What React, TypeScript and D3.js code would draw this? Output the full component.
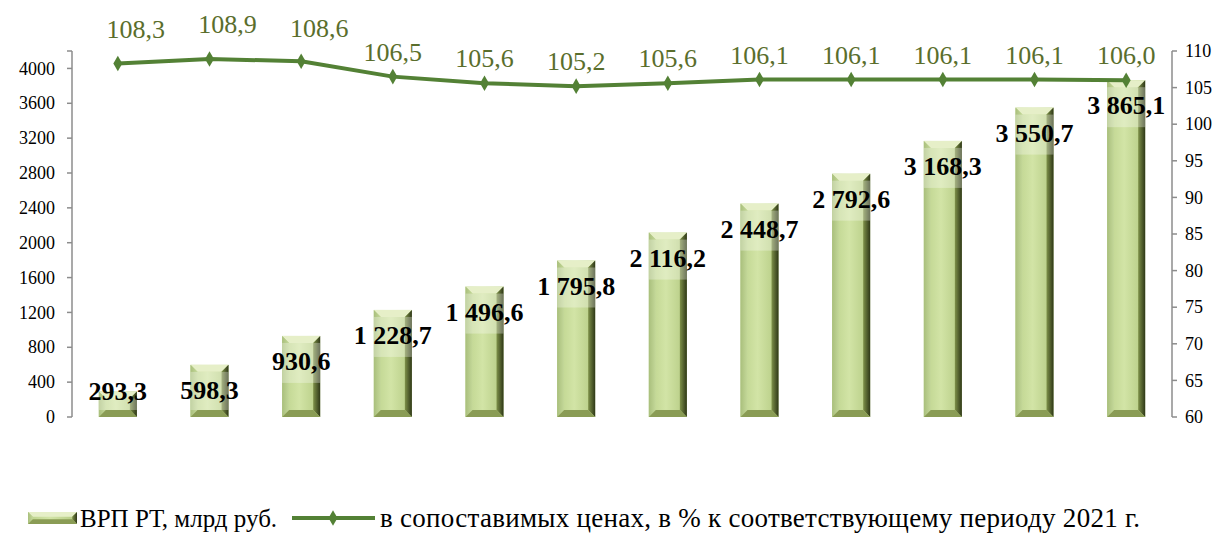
import React from "react";
import * as d3 from "d3";

const categories = ["янв", "янв-фев", "I кв", "янв-апр", "янв-май", "I пол", "янв-июл", "янв-авг", "9 мес", "янв-окт", "янв-ноя", "2022"];
const grpValues = [293.3, 598.3, 930.6, 1228.7, 1496.6, 1795.8, 2116.2, 2448.7, 2792.6, 3168.3, 3550.7, 3865.1];
const indexValues = [108.3, 108.9, 108.6, 106.5, 105.6, 105.2, 105.6, 106.1, 106.1, 106.1, 106.1, 106.0];
const leftTicks = [0, 400, 800, 1200, 1600, 2000, 2400, 2800, 3200, 3600, 4000];
const rightTicks = [60, 65, 70, 75, 80, 85, 90, 95, 100, 105, 110];
const seriesNames = ["ВРП РТ, млрд руб.", "в сопоставимых ценах, в % к соответствующему периоду 2021 г."];

const W = 1224, H = 536;
const left = 72, right = 1172, top = 51, bottom = 417;
const lineColor = "#538135";
const labelColor = "#5a6e2c";
const axisColor = "#8c8c8c";
const font = "Liberation Serif";

const fmt = (v: number) => {
  const s = v.toFixed(1).replace(".", ",");
  const [i, d] = s.split(",");
  const ii = i.replace(/\B(?=(\d{3})+(?!\d))/g, " ");
  return ii + "," + d;
};

function Bar({ x0, y0, w, h }: { x0: number; y0: number; w: number; h: number }) {
  const b = Math.min(7, h / 2.5);
  const x1 = x0 + w, y1 = y0 + h;
  return (
    <g>
      <rect x={x0} y={y0} width={w} height={h} fill="url(#faceGrad)" />
      <polygon points={`${x0},${y0} ${x1},${y0} ${x1 - b},${y0 + b} ${x0 + b},${y0 + b}`} fill="#e6efc8" />
      <polygon points={`${x0},${y0} ${x0 + b},${y0 + b} ${x0 + b},${y1 - b} ${x0},${y1}`} fill="url(#leftGrad)" />
      <polygon points={`${x1},${y0} ${x1 - b},${y0 + b} ${x1 - b},${y1 - b} ${x1},${y1}`} fill="url(#rightGrad)" />
      <polygon points={`${x0},${y1} ${x0 + b},${y1 - b} ${x1 - b},${y1 - b} ${x1},${y1}`} fill="#8a9c55" />
    </g>
  );
}

export default function App() {
  const x = d3.scaleBand<number>().domain(d3.range(categories.length)).range([left, right]).paddingInner(0.585).paddingOuter(0.2925);
  const yL = d3.scaleLinear().domain([0, 4200]).range([bottom, top]);
  const yR = d3.scaleLinear().domain([60, 110]).range([bottom, top]);
  const bw = x.bandwidth();
  const cx = (i: number) => (x(i) as number) + bw / 2;
  const line = d3.line<number>().x((_, i) => cx(i)).y((d) => yR(d));
  const diamond = d3.symbol().type(d3.symbolDiamond).size(70)();
  const labelNudge = [[18, -9], [18, -10], [18, -8]];

  return (
    <svg width={W} height={H} style={{ position: "absolute", left: 0, top: 0, background: "#fff" }}>
      <defs>
        <linearGradient id="faceGrad" x1="0" x2="1" y1="0" y2="0">
          <stop offset="0" stopColor="#bcd28c" />
          <stop offset="0.45" stopColor="#d2e4a6" />
          <stop offset="1" stopColor="#b3c981" />
        </linearGradient>
        <linearGradient id="leftGrad" x1="0" x2="1" y1="0" y2="0">
          <stop offset="0" stopColor="#a9bf7c" />
          <stop offset="1" stopColor="#c4d899" />
        </linearGradient>
        <linearGradient id="rightGrad" x1="0" x2="1" y1="0" y2="0">
          <stop offset="0" stopColor="#7e9149" />
          <stop offset="1" stopColor="#2e3717" />
        </linearGradient>
      </defs>

      {grpValues.map((v, i) => {
        const y0 = yL(v);
        const h = bottom - y0;
        const b = Math.min(7, h / 2.5);
        return (
          <g key={i}>
            <Bar x0={x(i) as number} y0={y0} w={bw} h={h} />
            <rect x={x(i) as number} y={y0 + b} width={bw} height={Math.max(0, Math.min(40, h - 2 * b))} fill="#ffffff" opacity={0.3} />
          </g>
        );
      })}

      <line x1={left} x2={left} y1={top} y2={bottom} stroke={axisColor} strokeWidth={1.5} />
      {leftTicks.map((t) => (
        <g key={t}>
          <line x1={left - 5} x2={left} y1={yL(t)} y2={yL(t)} stroke={axisColor} strokeWidth={1.5} />
          <text x={left - 17} y={yL(t)} dy="0.34em" textAnchor="end" fontFamily={font} fontSize={18} fill="#000">{t}</text>
        </g>
      ))}
      <line x1={left - 5} x2={left} y1={top} y2={top} stroke={axisColor} strokeWidth={1.5} />

      <line x1={right} x2={right} y1={top} y2={bottom} stroke={axisColor} strokeWidth={1.5} />
      {rightTicks.map((t) => (
        <g key={t}>
          <line x1={right} x2={right + 5} y1={yR(t)} y2={yR(t)} stroke={axisColor} strokeWidth={1.5} />
          <text x={right + 13} y={yR(t)} dy="0.34em" textAnchor="start" fontFamily={font} fontSize={18} fill="#000">{t}</text>
        </g>
      ))}

      <path d={line(indexValues) || ""} fill="none" stroke={lineColor} strokeWidth={4} strokeLinejoin="round" />
      {indexValues.map((v, i) => (
        <path key={i} d={diamond || ""} transform={`translate(${cx(i)},${yR(v)})`} fill={lineColor} />
      ))}

      {grpValues.map((v, i) => (
        <text key={i} x={cx(i)} y={Math.min(yL(v) + 34, bottom - 17)} textAnchor="middle" fontFamily={font} fontWeight="bold" fontSize={26} fill="#000">{fmt(v)}</text>
      ))}

      {indexValues.map((v, i) => {
        const n = labelNudge[i] || [0, 0];
        return (
          <text key={i} x={cx(i) + n[0]} y={yR(v) - 16 + n[1]} textAnchor="middle" fontFamily={font} fontSize={26} fill={labelColor}>{v.toFixed(1).replace(".", ",")}</text>
        );
      })}

      <g transform="translate(28,512)">
        <Bar x0={0} y0={0} w={49} h={12} />
        <text x={52} y={15} fontFamily={font} fontSize={25} fill="#000">{seriesNames[0]}</text>
      </g>
      <g transform="translate(292,518)">
        <line x1={0} x2={83} y1={0} y2={0} stroke={lineColor} strokeWidth={4} />
        <path d={diamond || ""} transform="translate(41,0)" fill={lineColor} />
        <text x={88} y={9} fontFamily={font} fontSize={27} textLength={760} lengthAdjust="spacing" fill="#000">{seriesNames[1]}</text>
      </g>
    </svg>
  );
}
